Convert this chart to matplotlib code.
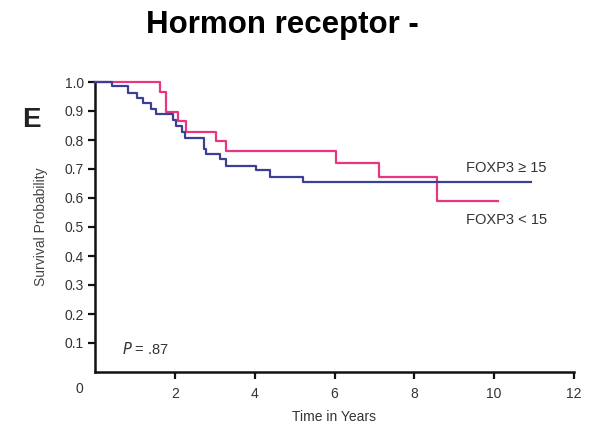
import matplotlib
matplotlib.use("Agg")
import matplotlib.pyplot as plt

plt.rcParams['font.family'] = ['Liberation Sans', 'DejaVu Sans']

# Kaplan-Meier step data (time in years, survival probability)
hi_time = [0, 0.43, 0.82, 1.04, 1.21, 1.40, 1.54, 1.96, 2.04, 2.17, 2.25, 2.73, 2.77, 3.12, 3.29, 4.04, 4.38, 5.21, 10.93]
hi_surv = [1.0, 0.986, 0.961, 0.944, 0.926, 0.907, 0.888, 0.869, 0.848, 0.829, 0.808, 0.770, 0.752, 0.733, 0.711, 0.697, 0.674, 0.656, 0.656]

lo_time = [0, 1.62, 1.77, 2.08, 2.29, 3.04, 3.29, 6.03, 7.12, 8.57, 10.1]
lo_surv = [1.0, 0.967, 0.898, 0.867, 0.829, 0.797, 0.762, 0.722, 0.672, 0.590, 0.590]

x_ticks = [2, 4, 6, 8, 10, 12]
y_ticks = [0.1, 0.2, 0.3, 0.4, 0.5, 0.6, 0.7, 0.8, 0.9, 1.0]

fig = plt.figure(figsize=(5.97, 4.25), dpi=100)
ax = fig.add_axes([95/597, 1 - 372/425, (574 - 95)/597, (372 - 82)/425])

pink = '#e8367f'
blue = '#3c3f96'
ax.step(lo_time, lo_surv, where='post', color=pink, lw=1.6, clip_on=False, zorder=3)
ax.step(hi_time, hi_surv, where='post', color=blue, lw=1.6, clip_on=False, zorder=4)

ax.set_xlim(0, 12)
ax.set_ylim(0, 1.0)
ax.set_xticks(x_ticks)
ax.set_yticks(y_ticks)
ax.set_yticklabels([f"{v:.1f}" for v in y_ticks])
for s in ['top', 'right']:
    ax.spines[s].set_visible(False)
for s in ['left', 'bottom']:
    ax.spines[s].set_linewidth(1.8)
    ax.spines[s].set_color('#111111')
ax.tick_params(axis='both', direction='out', length=5, width=1.6, color='#111111',
               labelsize=10, labelcolor='#333333', pad=3)
ax.tick_params(axis='x', pad=6)

ax.text(-0.38, -0.058, '0', transform=ax.transData, ha='center', va='center',
        fontsize=10, color='#333333', clip_on=False)

ax.set_xlabel('Time in Years', fontsize=10, color='#333333', labelpad=6)
ax.set_ylabel('Survival Probability', fontsize=10, color='#444444', labelpad=12)

ax.text(0.68, 0.08, r'$\it{P}$ = .87', fontsize=10.5, color='#333333', va='center', ha='left')
ax.text(9.3, 0.703, 'FOXP3 \u2265 15', fontsize=10.5, color='#333333', va='center', ha='left')
ax.text(9.3, 0.524, 'FOXP3 < 15', fontsize=10.5, color='#333333', va='center', ha='left')

fig.text(282/597, 1 - 33/425, 'Hormon receptor -', fontsize=22.5, fontweight='bold',
         ha='center', va='baseline', color='black')
fig.text(31/597, 1 - 127/425, 'E', fontsize=20, fontweight='bold', ha='center',
         va='baseline', color='#222222')

fig.savefig('out.png', dpi=100)
